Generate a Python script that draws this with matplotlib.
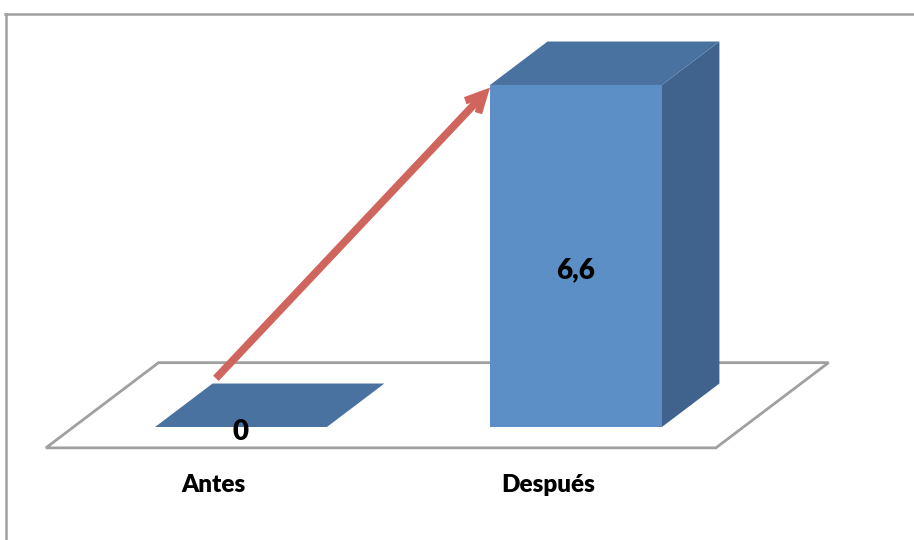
import matplotlib.pyplot as plt
from matplotlib.patches import Polygon

categories = ['Antes', 'Después']
values = [0, 6.6]
value_labels = ['0', '6,6']

# styling / projection
bar_w = 0.513          # bar width in category units
ddx, ddy = 0.1716, 0.839   # oblique offset for one bar depth (data units)
floor_pad = 0.48       # floor extends beyond bar depth on both sides
c_front = '#5B8FC5'
c_top = '#4A72A0'
c_side = '#3F638C'
c_floor = '#A0A0A0'


def proj(x, v, d):
    return (x + d * ddx, v + d * ddy)


fig = plt.figure(figsize=(9.14, 5.4), dpi=100)
ax = fig.add_axes([0, 0, 1, 1])
ax.set_xlim(-0.7194, 2.009)
ax.set_ylim(-2.1807, 8.240)
ax.axis('off')

# floor
n = len(categories)
fl = [proj(-0.5, 0, -floor_pad), proj(n - 0.5, 0, -floor_pad),
      proj(n - 0.5, 0, 1 + floor_pad), proj(-0.5, 0, 1 + floor_pad)]
ax.add_patch(Polygon(fl, closed=True, facecolor='white', edgecolor=c_floor, lw=2, zorder=1))

# bars
for i, v in enumerate(values):
    x0, x1 = i - bar_w / 2, i + bar_w / 2
    top = [proj(x0, v, 0), proj(x1, v, 0), proj(x1, v, 1), proj(x0, v, 1)]
    if v > 0:
        front = [proj(x0, 0, 0), proj(x1, 0, 0), proj(x1, v, 0), proj(x0, v, 0)]
        side = [proj(x1, 0, 0), proj(x1, 0, 1), proj(x1, v, 1), proj(x1, v, 0)]
        ax.add_patch(Polygon(side, closed=True, facecolor=c_side, edgecolor='none', zorder=2))
        ax.add_patch(Polygon(front, closed=True, facecolor=c_front, edgecolor='none', zorder=2))
    ax.add_patch(Polygon(top, closed=True, facecolor=c_top, edgecolor='none', zorder=2))

    # value labels
    if v > 0:
        ax.text(i, v * 0.46, value_labels[i], ha='center', va='center',
                fontsize=20, fontweight='heavy', family='Lato', zorder=4)
    else:
        ax.text(i, -0.1, value_labels[i], ha='center', va='center',
                fontsize=20, fontweight='heavy', family='Lato', zorder=4)

    # category labels
    lx, _ = proj(i, 0, -floor_pad)
    ax.text(lx, -1.12, categories[i], ha='center', va='center',
            fontsize=17.5, fontweight='heavy', family='Lato', zorder=4)

# arrow from first bar to second bar
start = proj(-bar_w / 2 + 0.01, values[0] + 0.1, 1)
end = proj(1 - bar_w / 2, values[1] - 0.05, 0)
ax.annotate('', xy=end, xytext=start,
            arrowprops=dict(arrowstyle='->,head_length=1.3,head_width=0.65',
                            color='#D0655E', lw=5.5, shrinkA=0, shrinkB=0,
                            capstyle='butt', joinstyle='miter'),
            zorder=5)

# chart frame (right and bottom fall outside the picture)
fig.add_artist(plt.Line2D([5.5 / 914, 5.5 / 914], [0, 1 - 14 / 540], color=c_floor, lw=1.8))
fig.add_artist(plt.Line2D([5 / 914, 1], [1 - 14 / 540, 1 - 14 / 540], color=c_floor, lw=1.8))

fig.savefig('out.png', dpi=100)
